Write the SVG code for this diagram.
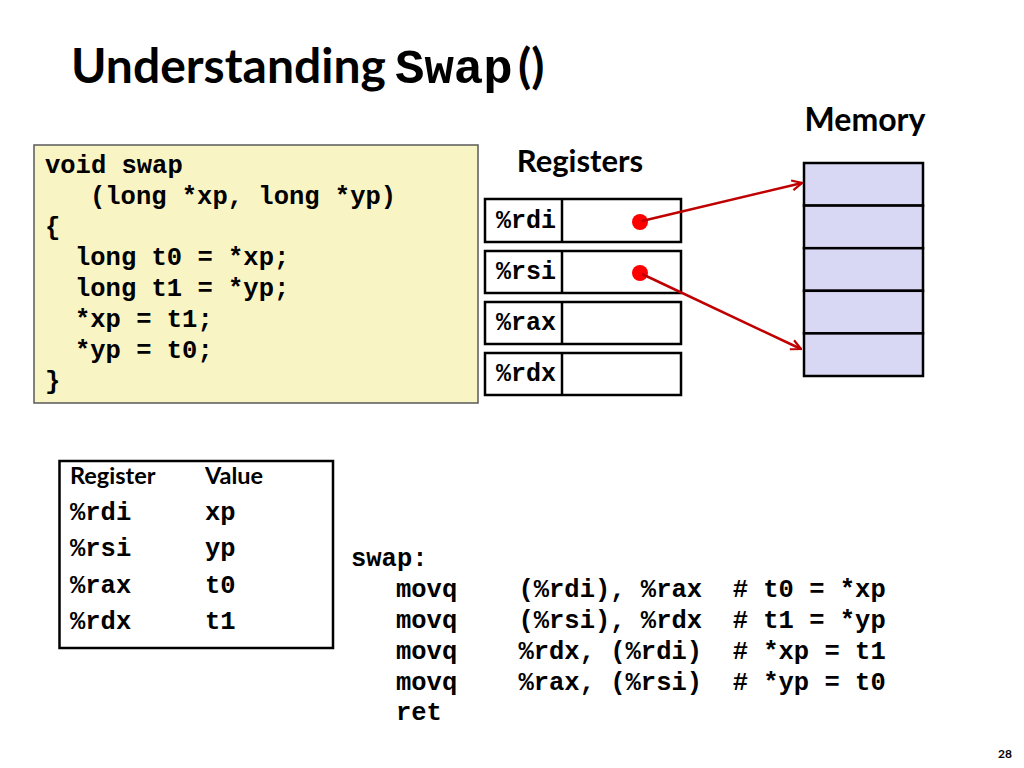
<svg xmlns="http://www.w3.org/2000/svg" width="1024" height="768" viewBox="0 0 1024 768">
<defs>
<style>
.sans{font-family:"Lato","Liberation Sans",sans-serif;font-weight:700;fill:#000}
.mono{font-family:"Courier New","Nimbus Mono PS","FreeMono","Liberation Mono",monospace;font-weight:700;fill:#000}
.code{font-size:25.5px}
.box{fill:#fff;stroke:#000;stroke-width:2.5}
.mem{fill:#d8d8f4;stroke:#000;stroke-width:2.5}
.ptr{stroke:#c00000;stroke-width:2.5;fill:none}
</style>
<marker id="ah" viewBox="0 0 12 12" refX="11" refY="6" markerWidth="12" markerHeight="12" markerUnits="userSpaceOnUse" orient="auto">
<path d="M1,1 L11,6 L1,11" fill="none" stroke="#c00000" stroke-width="2.2"/>
</marker>
</defs>
<rect width="1024" height="768" fill="#fff"/>

<g id="title">
<text x="71" y="83" class="sans" font-size="48">Understanding</text>
<text x="395" y="83" class="mono" font-size="49">Swap</text>
<text x="518" y="83" class="sans" font-size="48">()</text>
</g>

<g id="code">
<rect x="34" y="145" width="444" height="258" fill="#f8f4c4" stroke="#595959" stroke-width="1.5"/>
<text class="mono code" x="45" y="173">void swap</text>
<text class="mono code" x="90" y="204">(long *xp, long *yp)</text>
<text class="mono code" x="45" y="235">{</text>
<text class="mono code" x="75" y="265">long t0 = *xp;</text>
<text class="mono code" x="75" y="296">long t1 = *yp;</text>
<text class="mono code" x="75" y="327">*xp = t1;</text>
<text class="mono code" x="75" y="358">*yp = t0;</text>
<text class="mono code" x="45" y="389">}</text>
</g>

<g id="registers-label">
<text x="580" y="172" class="sans" font-size="31" text-anchor="middle">Registers</text>
</g>

<g id="reg-rdi">
<rect class="box" x="485" y="199" width="196" height="43"/>
<line x1="562" y1="199" x2="562" y2="242" stroke="#000" stroke-width="2.5"/>
<text class="mono" font-size="25" x="496" y="228">%rdi</text>
<circle cx="640" cy="222" r="8" fill="#ff0000"/>
</g>
<g id="reg-rsi">
<rect class="box" x="485" y="251" width="196" height="42"/>
<line x1="562" y1="251" x2="562" y2="293" stroke="#000" stroke-width="2.5"/>
<text class="mono" font-size="25" x="496" y="279">%rsi</text>
<circle cx="640" cy="273" r="8" fill="#ff0000"/>
</g>
<g id="reg-rax">
<rect class="box" x="485" y="302" width="196" height="42"/>
<line x1="562" y1="302" x2="562" y2="344" stroke="#000" stroke-width="2.5"/>
<text class="mono" font-size="25" x="496" y="330">%rax</text>
</g>
<g id="reg-rdx">
<rect class="box" x="485" y="353" width="196" height="42"/>
<line x1="562" y1="353" x2="562" y2="395" stroke="#000" stroke-width="2.5"/>
<text class="mono" font-size="25" x="496" y="381">%rdx</text>
</g>

<g id="memory-label">
<text x="865" y="131" class="sans" font-size="32" text-anchor="middle">Memory</text>
</g>
<g id="memory">
<rect class="mem" x="804" y="163" width="119" height="42.6"/>
<rect class="mem" x="804" y="205.6" width="119" height="42.6"/>
<rect class="mem" x="804" y="248.2" width="119" height="42.6"/>
<rect class="mem" x="804" y="290.8" width="119" height="42.6"/>
<rect class="mem" x="804" y="333.4" width="119" height="42.6"/>
</g>

<g id="connectors">
<line class="ptr" x1="642" y1="221" x2="802" y2="183" marker-end="url(#ah)"/>
<line class="ptr" x1="642" y1="274" x2="801" y2="349" marker-end="url(#ah)"/>
</g>

<g id="reg-table">
<rect x="59.5" y="461" width="273.5" height="187" fill="#fff" stroke="#000" stroke-width="2.5"/>
<text class="sans" font-size="23.5" x="70" y="484">Register</text>
<text class="sans" font-size="23.5" x="205" y="484">Value</text>
<text class="mono code" x="70" y="520">%rdi</text>
<text class="mono code" x="205" y="520">xp</text>
<text class="mono code" x="70" y="556">%rsi</text>
<text class="mono code" x="205" y="556">yp</text>
<text class="mono code" x="70" y="593">%rax</text>
<text class="mono code" x="205" y="593">t0</text>
<text class="mono code" x="70" y="629">%rdx</text>
<text class="mono code" x="205" y="629">t1</text>
</g>

<g id="asm">
<text class="mono code" x="351" y="566">swap:</text>
<text class="mono code" x="396" y="597" xml:space="preserve">movq    (%rdi), %rax  # t0 = *xp</text>
<text class="mono code" x="396" y="628" xml:space="preserve">movq    (%rsi), %rdx  # t1 = *yp</text>
<text class="mono code" x="396" y="659" xml:space="preserve">movq    %rdx, (%rdi)  # *xp = t1</text>
<text class="mono code" x="396" y="690" xml:space="preserve">movq    %rax, (%rsi)  # *yp = t0</text>
<text class="mono code" x="396" y="720">ret</text>
</g>

<g id="page-number">
<text x="1012" y="758" class="sans" font-size="12" text-anchor="end">28</text>
</g>
</svg>
